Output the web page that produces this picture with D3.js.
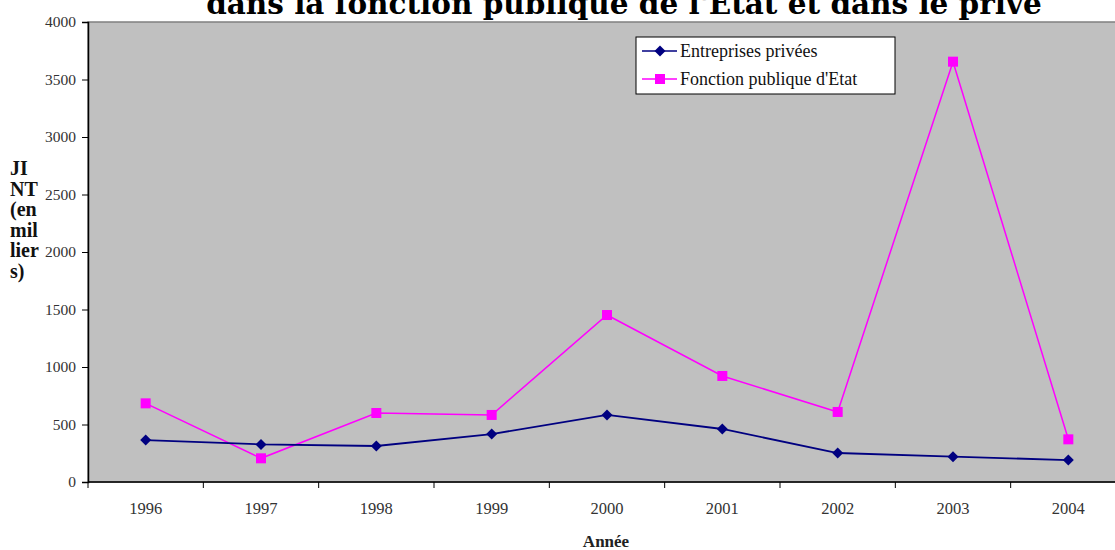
<!DOCTYPE html>
<html>
<head>
<meta charset="utf-8">
<script src="https://cdn.jsdelivr.net/npm/d3@7"></script>
<style>
  body { margin: 0; background: #fff; overflow: hidden; }
  text { font-family: "Liberation Serif", "DejaVu Serif", serif; }
</style>
</head>
<body>
<div id="vis"></div>
<script>
var years = ["1996", "1997", "1998", "1999", "2000", "2001", "2002", "2003", "2004"];
var prive = [365, 327, 313, 417, 583, 461, 252, 220, 191];
var publique = [684, 206, 600, 583, 1452, 922, 609, 3655, 371];
var yTicks = [0, 500, 1000, 1500, 2000, 2500, 3000, 3500, 4000];
var seriesNames = ["Entreprises privées", "Fonction publique d'Etat"];
var yLabelLines = ["JI", "NT", "(en", "mil", "lier", "s)"];

var W = 1115, H = 550;
var plotLeft = 88, plotTop = 22, plotW = 1038, plotH = 460;

var svg = d3.select("#vis").append("svg").attr("width", W).attr("height", H);

var x = d3.scaleBand().domain(years).range([plotLeft, plotLeft + plotW]);
var y = d3.scaleLinear().domain([0, 4000]).range([plotTop + plotH, plotTop]);
var cx = function(i) { return x(years[i]) + x.bandwidth() / 2; };

// plot area
svg.append("rect")
    .attr("x", plotLeft).attr("y", plotTop)
    .attr("width", plotW).attr("height", plotH)
    .attr("fill", "#c0c0c0")
    .attr("stroke", "#808080").attr("stroke-width", 1.5);

// title (first line is off the page) - fit to the width seen in the picture
var title = svg.append("text")
    .attr("x", 624).attr("y", 14)
    .attr("text-anchor", "middle")
    .attr("font-size", 32).attr("font-weight", "bold")
    .style("font-family", "DejaVu Serif, serif")
    .text("dans la fonction publique de l'Etat et dans le privé");
var tw = title.node().getComputedTextLength();
title.attr("font-size", 32 * 836 / tw);

// y axis
var yAxis = d3.axisLeft(y).tickValues(yTicks).tickSize(6).tickPadding(6).tickFormat(d3.format("d"));
var gy = svg.append("g").attr("transform", "translate(" + plotLeft + ",0)").call(yAxis);
gy.select(".domain").attr("stroke", "#000").attr("stroke-width", 1.5);
gy.selectAll("text").attr("font-size", 15.5).attr("fill", "#333");

// x axis, ticks between categories
var gx = svg.append("g").attr("transform", "translate(0," + (plotTop + plotH) + ")");
gx.append("line").attr("x1", plotLeft).attr("x2", plotLeft + plotW).attr("stroke", "#000").attr("stroke-width", 1.5);
gx.selectAll(".tk").data(years.concat(["end"])).enter().append("line")
    .attr("x1", function(d, i) { return plotLeft + i * x.bandwidth(); })
    .attr("x2", function(d, i) { return plotLeft + i * x.bandwidth(); })
    .attr("y1", 0).attr("y2", 6)
    .attr("stroke", "#000");
gx.selectAll(".lbl").data(years).enter().append("text")
    .attr("x", function(d, i) { return cx(i); })
    .attr("y", 32)
    .attr("text-anchor", "middle")
    .attr("font-size", 16.5).attr("fill", "#333")
    .text(function(d) { return d; });

// axis titles
svg.append("text")
    .attr("x", 606).attr("y", 547)
    .attr("text-anchor", "middle")
    .attr("font-size", 17).attr("font-weight", "bold").attr("fill", "#222")
    .text("Année");

svg.append("g").selectAll("text").data(yLabelLines).enter().append("text")
    .attr("x", 10)
    .attr("y", function(d, i) { return 175 + i * 20.5; })
    .attr("font-size", 20).attr("font-weight", "bold").attr("fill", "#111")
    .text(function(d) { return d; });

// lines
var line = d3.line()
    .x(function(d, i) { return cx(i); })
    .y(function(d) { return y(d); });

svg.append("path").datum(publique)
    .attr("d", line).attr("fill", "none")
    .attr("stroke", "#ff00ff").attr("stroke-width", 1.5);
svg.append("path").datum(prive)
    .attr("d", line).attr("fill", "none")
    .attr("stroke", "#000080").attr("stroke-width", 1.8);

svg.selectAll(".sq").data(publique).enter().append("rect")
    .attr("x", function(d, i) { return cx(i) - 5; })
    .attr("y", function(d) { return y(d) - 5; })
    .attr("width", 10).attr("height", 10)
    .attr("fill", "#ff00ff");

var diamond = "M0,-5.5L5.5,0L0,5.5L-5.5,0Z";
svg.selectAll(".dm").data(prive).enter().append("path")
    .attr("d", diamond)
    .attr("transform", function(d, i) { return "translate(" + cx(i) + "," + y(d) + ")"; })
    .attr("fill", "#000080");

// legend
var lg = svg.append("g").attr("transform", "translate(636,37)");
lg.append("rect").attr("width", 259).attr("height", 57).attr("fill", "#fff").attr("stroke", "#000");
var rows = [{ c: "#000080", t: "d" }, { c: "#ff00ff", t: "s" }];
rows.forEach(function(r, i) {
    var ly = 14 + i * 28;
    lg.append("line").attr("x1", 6).attr("x2", 41).attr("y1", ly).attr("y2", ly)
        .attr("stroke", r.c).attr("stroke-width", 1.5);
    if (r.t === "d") {
        lg.append("path").attr("d", diamond).attr("transform", "translate(24," + ly + ")").attr("fill", r.c);
    } else {
        lg.append("rect").attr("x", 19).attr("y", ly - 5).attr("width", 10).attr("height", 10).attr("fill", r.c);
    }
    lg.append("text").attr("x", 44).attr("y", ly + 6)
        .attr("font-size", 18).attr("fill", "#111")
        .text(seriesNames[i]);
});
</script>
</body>
</html>
